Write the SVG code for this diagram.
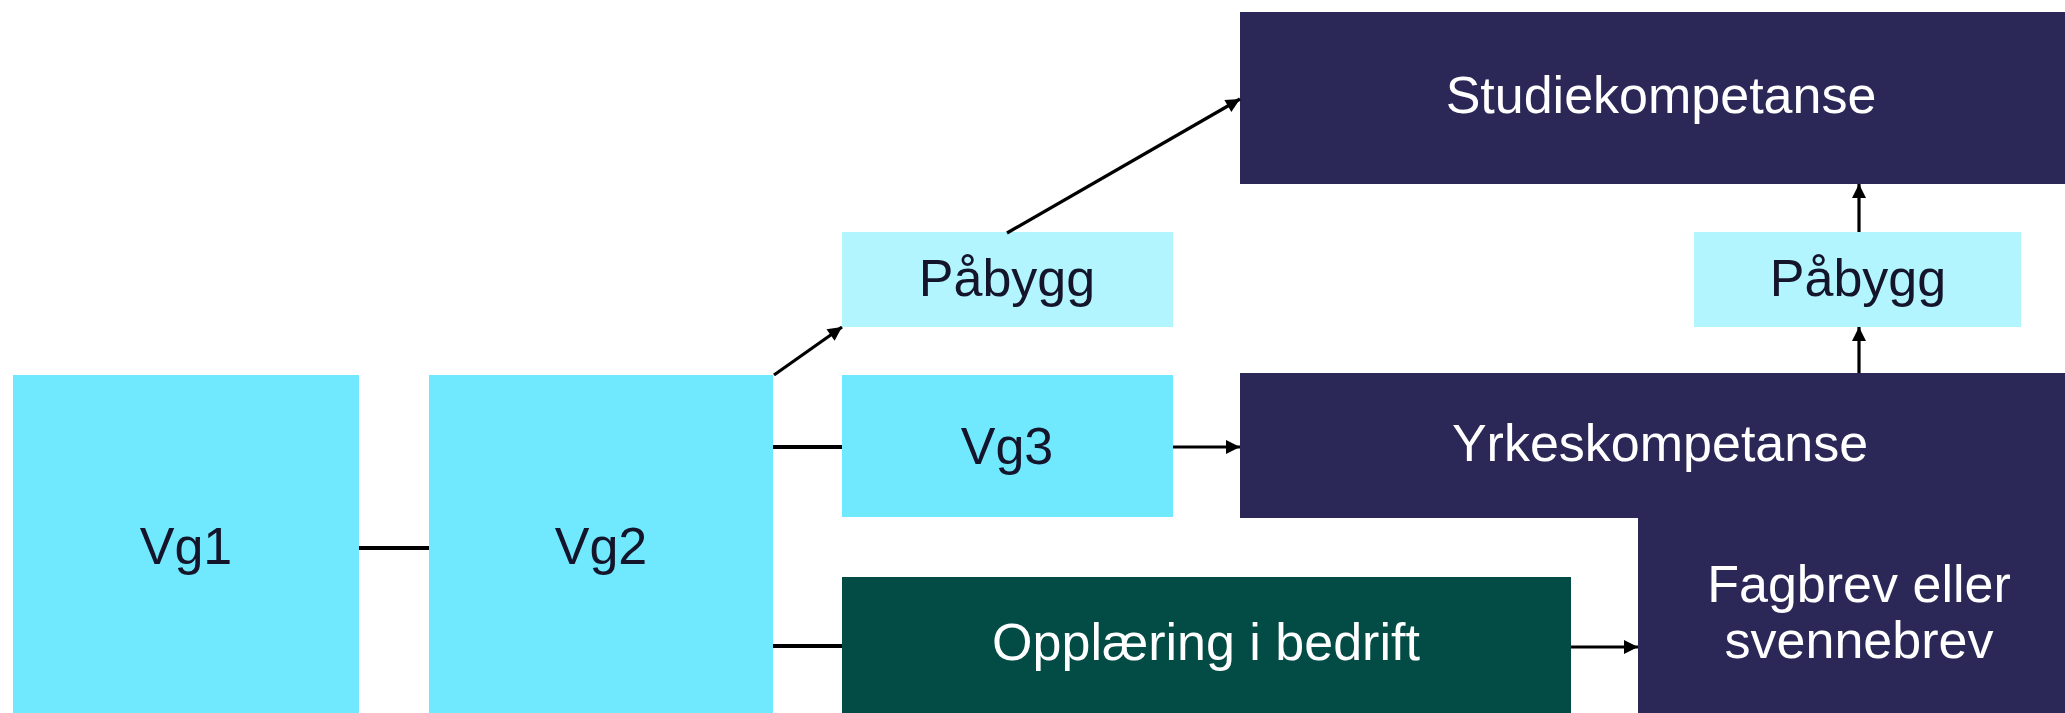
<svg xmlns="http://www.w3.org/2000/svg" width="2065" height="713" viewBox="0 0 2065 713">
  <defs>
    <style>
      .lbl { font-family: "Liberation Sans", Arial, sans-serif; font-size: 52px; text-anchor: middle; }
      .dark { fill: #14142a; }
      .light { fill: #ffffff; }
      .vg { fill: #70e9ff; }
      .pa { fill: #b3f5fe; }
      .navy { fill: #2b2858; }
      .green { fill: #034c45; }
      .line { stroke: #000; stroke-width: 4; fill: none; }
      .arr { stroke: #000; stroke-width: 3.2; fill: none; marker-end: url(#ah); }
    </style>
    <marker id="ah" viewBox="0 0 10 10" refX="10" refY="5" markerWidth="16" markerHeight="14" markerUnits="userSpaceOnUse" orient="auto">
      <path d="M0,0 L10,5 L0,10 z" fill="#000"/>
    </marker>
  </defs>
  <rect width="2065" height="713" fill="#ffffff"/>

  <g id="vg1">
    <rect class="vg" x="13" y="375" width="346" height="338"/>
    <text class="lbl dark" x="186" y="564">Vg1</text>
  </g>
  <g id="vg2">
    <rect class="vg" x="429" y="375" width="344" height="338"/>
    <text class="lbl dark" x="601" y="564">Vg2</text>
  </g>
  <g id="pabygg1">
    <rect class="pa" x="842" y="232" width="331" height="95"/>
    <text class="lbl dark" x="1007" y="296">Påbygg</text>
  </g>
  <g id="vg3">
    <rect class="vg" x="842" y="375" width="331" height="142"/>
    <text class="lbl dark" x="1007" y="464">Vg3</text>
  </g>
  <g id="opplaering">
    <rect class="green" x="842" y="577" width="729" height="136"/>
    <text class="lbl light" x="1206" y="660">Opplæring i bedrift</text>
  </g>
  <g id="studiekompetanse">
    <rect class="navy" x="1240" y="12" width="825" height="172"/>
    <text class="lbl light" x="1661" y="113">Studiekompetanse</text>
  </g>
  <g id="pabygg2">
    <rect class="pa" x="1694" y="232" width="327" height="95"/>
    <text class="lbl dark" x="1858" y="296">Påbygg</text>
  </g>
  <g id="yrkeskompetanse">
    <rect class="navy" x="1240" y="373" width="825" height="145"/>
    <text class="lbl light" x="1660" y="461">Yrkeskompetanse</text>
  </g>
  <g id="fagbrev">
    <rect class="navy" x="1638" y="517" width="427" height="196"/>
    <text class="lbl light" x="1859" y="602">Fagbrev eller</text>
    <text class="lbl light" x="1859" y="658">svennebrev</text>
  </g>

  <g id="connectors">
    <line class="line" x1="359" y1="548" x2="429" y2="548"/>
    <line class="line" x1="773" y1="447" x2="842" y2="447"/>
    <line class="line" x1="773" y1="646" x2="842" y2="646"/>
    <line class="arr" x1="774" y1="375" x2="842" y2="327"/>
    <line class="arr" x1="1007" y1="233" x2="1240" y2="99"/>
    <line class="arr" x1="1173" y1="447" x2="1240" y2="447"/>
    <line class="arr" x1="1571" y1="647" x2="1638" y2="647"/>
    <line class="arr" x1="1859" y1="373" x2="1859" y2="327"/>
    <line class="arr" x1="1859" y1="232" x2="1859" y2="184"/>
  </g>
</svg>
